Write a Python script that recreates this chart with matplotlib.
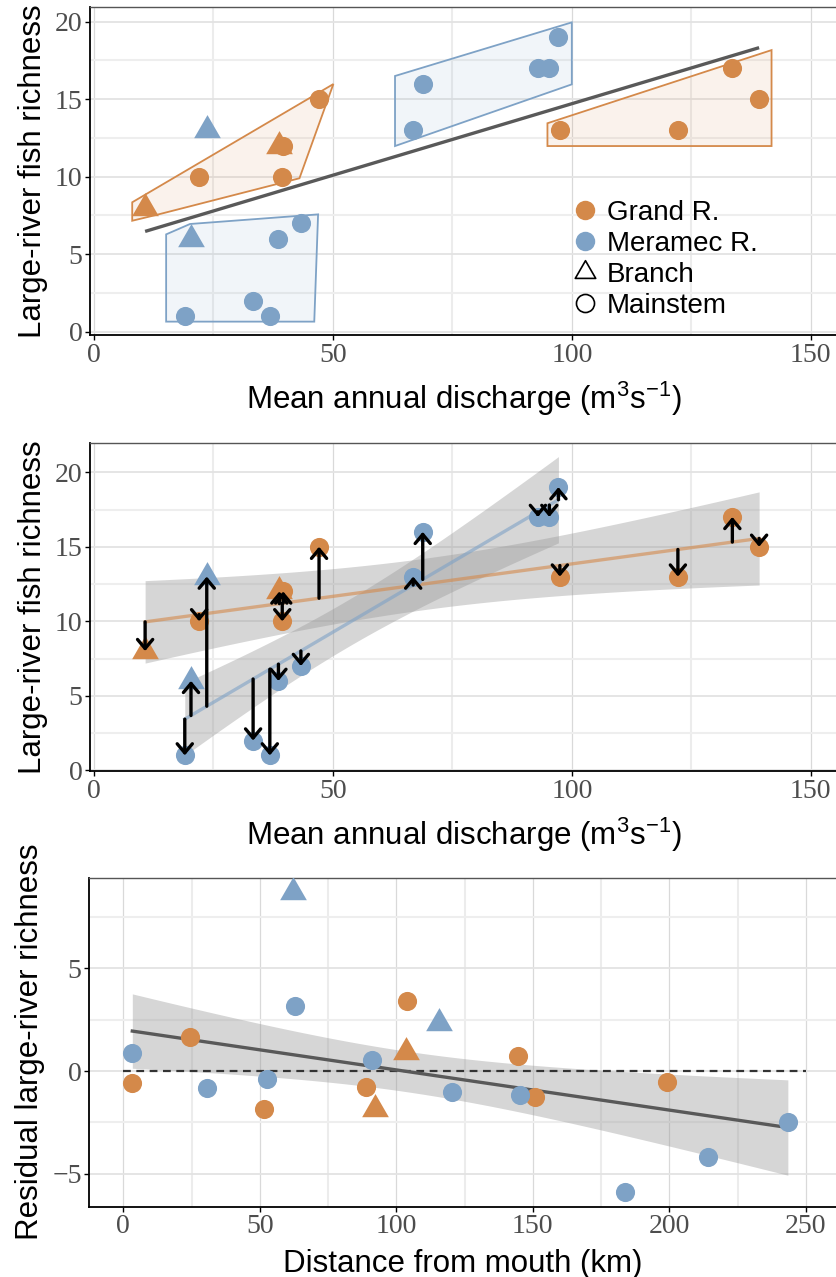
import numpy as np
import matplotlib
matplotlib.use("Agg")
from matplotlib import pyplot as plt
from matplotlib.lines import Line2D
from matplotlib.patches import Polygon
from matplotlib.path import Path

plt.rcParams["font.family"] = ["Liberation Sans", "DejaVu Sans"]
plt.rcParams["mathtext.fontset"] = "custom"
plt.rcParams["mathtext.rm"] = "Liberation Sans"
plt.rcParams["mathtext.it"] = "Liberation Sans:italic"

# ---- data ----
# discharge vs richness (top + middle panels)
grand_discharge = [10.7, 22.0, 38.8, 39.6, 39.4, 47.1, 97.5, 122.2, 133.6, 139.2]
grand_richness = [8, 10, 12, 12, 10, 15, 13, 13, 17, 15]
grand_site = ["Branch", "Mainstem", "Branch", "Mainstem", "Mainstem",
              "Mainstem", "Mainstem", "Mainstem", "Mainstem", "Mainstem"]

meramec_discharge = [23.6, 20.3, 19.0, 33.3, 36.8, 38.6, 43.3, 66.8, 68.8, 92.9, 95.3, 97.2]
meramec_richness = [13, 6, 1, 2, 1, 6, 7, 13, 16, 17, 17, 19]
meramec_site = ["Branch", "Branch", "Mainstem", "Mainstem", "Mainstem", "Mainstem",
                "Mainstem", "Mainstem", "Mainstem", "Mainstem", "Mainstem", "Mainstem"]

# hand-drawn group outlines in the top panel (discharge, richness)
grand_outline_low = [(8.0, 8.35), (8.0, 7.16), (13.5, 7.57), (43.0, 9.9), (50.1, 15.98)]
grand_outline_high = [(94.9, 13.45), (141.8, 18.17), (141.8, 11.98), (94.9, 11.98)]
meramec_outline_low = [(15.1, 6.28), (20.1, 6.95), (46.9, 7.57), (46.1, 0.65), (15.1, 0.65)]
meramec_outline_high = [(63.0, 16.5), (100.0, 19.96), (100.0, 15.96), (63.0, 11.98)]

# distance vs residual richness (bottom panel)
grand_distance = [3.3, 24.5, 51.7, 89.0, 92.3, 103.6, 103.9, 144.6, 150.7, 199.2]
grand_residual = [-0.60, 1.64, -1.86, -0.76, -1.86, 0.91, 3.42, 0.73, -1.28, -0.52]
grand_dist_site = ["Mainstem", "Mainstem", "Mainstem", "Mainstem", "Branch",
                   "Branch", "Mainstem", "Mainstem", "Mainstem", "Mainstem"]

meramec_distance = [3.3, 30.6, 52.6, 62.3, 62.9, 91.2, 115.5, 120.4, 145.4, 183.7, 214.2, 243.4]
meramec_residual = [0.86, -0.84, -0.40, 8.72, 3.18, 0.54, 2.36, -1.04, -1.17, -5.87, -4.20, -2.50]
meramec_dist_site = ["Mainstem", "Mainstem", "Mainstem", "Branch", "Mainstem", "Mainstem",
                     "Branch", "Mainstem", "Mainstem", "Mainstem", "Mainstem", "Mainstem"]

# one-sided 0.95 t quantiles (90% bands) keyed by residual df
T_CRIT = {18: 1.734, 20: 1.725}

ORANGE = "#d4894a"
BLUE = "#7ea2c6"
LINE_GREY = "#595959"
TICK_GREY = "#4d4d4d"

# equilateral triangle with its centroid on the data point (like R's pch 17)
TRIANGLE = Path([(0, 1), (-0.866, -0.5), (0.866, -0.5), (0, 1)],
                [Path.MOVETO, Path.LINETO, Path.LINETO, Path.CLOSEPOLY])
CIRCLE_S = 190
TRIANGLE_S = 493


def ols(x, y):
    slope, intercept = np.polyfit(x, y, 1)
    return slope, intercept


def band(x, xs, fit, s, df):
    """confidence band of a straight-line fit, residual sd s with df degrees of freedom"""
    x = np.asarray(x, float)
    se = s * np.sqrt(1 / len(x) + (xs - x.mean()) ** 2 / np.sum((x - x.mean()) ** 2))
    return fit - T_CRIT[df] * se, fit + T_CRIT[df] * se


def scatter_sites(ax, x, y, site, color, z=4):
    x = np.asarray(x)
    y = np.asarray(y)
    site = np.asarray(site)
    m = site == "Mainstem"
    ax.scatter(x[m], y[m], s=CIRCLE_S, color=color, marker="o", linewidths=0, zorder=z)
    ax.scatter(x[~m], y[~m], s=TRIANGLE_S, color=color, marker=TRIANGLE, linewidths=0, zorder=z)


def style_axes(ax, xticks, yticks, xminor, yminor):
    ax.set_xticks(xticks)
    ax.set_yticks(yticks)
    ax.set_xticks(xminor, minor=True)
    ax.set_yticks(yminor, minor=True)
    ax.grid(which="major", axis="x", color="#d9d9d9", lw=0.9)
    ax.grid(which="minor", axis="x", color="#ececec", lw=1.5)
    ax.grid(which="major", axis="y", color="#e3e3e3", lw=1.3)
    ax.grid(which="minor", axis="y", color="#eeeeee", lw=1.5)
    ax.set_axisbelow(True)
    ax.tick_params(which="major", direction="out", length=3.5, width=1, color="black",
                   labelsize=20, labelcolor=TICK_GREY, pad=2)
    ax.tick_params(which="minor", length=0)
    for lab in ax.get_xticklabels() + ax.get_yticklabels():
        lab.set_fontfamily("Liberation Serif")
    ax.spines["left"].set_linewidth(1.3)
    ax.spines["bottom"].set_linewidth(1.3)
    ax.spines["top"].set_color("#555555")
    ax.spines["top"].set_linewidth(1.0)
    ax.spines["right"].set_visible(False)


fig = plt.figure(figsize=(8.37, 12.77), dpi=100)
ax1 = fig.add_axes([0.1075, 0.7377, 0.8925, 0.2568])
ax2 = fig.add_axes([0.1075, 0.3962, 0.8925, 0.2571])
ax3 = fig.add_axes([0.1067, 0.0551, 0.8933, 0.2576])

discharge_label = r"Mean annual discharge (m$^{3}$s$^{-1}$)"
TITLE_SIZE = 22.5

# ---- top panel: groups outlined, single pooled regression ----
for outline, color in [(grand_outline_low, ORANGE), (grand_outline_high, ORANGE),
                       (meramec_outline_low, BLUE), (meramec_outline_high, BLUE)]:
    ax1.add_patch(Polygon(outline, closed=True, facecolor=color, alpha=0.1, lw=0, zorder=2))
    ax1.add_patch(Polygon(outline, closed=True, fill=False, edgecolor=color, lw=1.3, zorder=2))

all_discharge = np.array(grand_discharge + meramec_discharge)
all_richness = np.array(grand_richness + meramec_richness)
xs_all = np.linspace(all_discharge.min(), all_discharge.max(), 100)
b_all, a_all = ols(all_discharge, all_richness)
ax1.plot(xs_all, a_all + b_all * xs_all, color=LINE_GREY, lw=2.4, zorder=3,
         solid_capstyle="butt")

scatter_sites(ax1, grand_discharge, grand_richness, grand_site, ORANGE)
scatter_sites(ax1, meramec_discharge, meramec_richness, meramec_site, BLUE)

ax1.set_xlim(-0.84, 155.5)
ax1.set_ylim(-0.21, 20.95)
style_axes(ax1, [0, 50, 100, 150], [0, 5, 10, 15, 20], [25, 75, 125], [2.5, 7.5, 12.5, 17.5])
ax1.set_xlabel(discharge_label, fontsize=TITLE_SIZE, labelpad=9)
ax1.set_ylabel("Large-river fish richness", fontsize=TITLE_SIZE, labelpad=5)

handles = [
    Line2D([], [], ls="", marker="o", ms=14, color=ORANGE, mew=0),
    Line2D([], [], ls="", marker="o", ms=14, color=BLUE, mew=0),
    Line2D([], [], ls="", marker=TRIANGLE, ms=17, mfc="none", mec="black", mew=1.2),
    Line2D([], [], ls="", marker="o", ms=13, mfc="none", mec="black", mew=1.2),
]
ax1.legend(handles, ["Grand R.", "Meramec R.", "Branch", "Mainstem"],
           loc="upper left", bbox_to_anchor=(0.625, 0.455), frameon=False, fontsize=20,
           handlelength=1.0, handletextpad=0.3, labelspacing=0.18, borderpad=0)

# ---- middle panel: per-river fits (interaction model, pooled variance), residual arrows ----
groups = [(grand_discharge, grand_richness, grand_site, ORANGE),
          (meramec_discharge, meramec_richness, meramec_site, BLUE)]
fits = []
ss_resid = 0.0
n_total = 0
for x, y, site, color in groups:
    x = np.asarray(x, float)
    y = np.asarray(y, float)
    b, a = ols(x, y)
    fits.append((b, a))
    ss_resid += np.sum((y - (a + b * x)) ** 2)
    n_total += len(x)
df_pooled = n_total - 4
s_pooled = np.sqrt(ss_resid / df_pooled)

for (x, y, site, color), (b, a) in zip(groups, fits):
    x = np.asarray(x, float)
    y = np.asarray(y, float)
    xs = np.linspace(x.min(), x.max(), 100)
    fit = a + b * xs
    lo, hi = band(x, xs, fit, s_pooled, df_pooled)
    ax2.fill_between(xs, lo, hi, color="#999999", alpha=0.4, lw=0, zorder=2)
    ax2.plot(xs, fit, color=color, alpha=0.6, lw=2.4, zorder=3)
    scatter_sites(ax2, x, y, site, color)
    for xi, f, yi in zip(x, a + b * x, y):
        ax2.annotate("", xy=(xi, yi), xytext=(xi, f),
                     arrowprops=dict(arrowstyle="->,head_length=0.5,head_width=0.42",
                                     color="black", lw=2.4, shrinkA=0, shrinkB=0,
                                     mutation_scale=13),
                     zorder=5)

ax2.set_xlim(-0.84, 155.5)
ax2.set_ylim(-0.05, 21.98)
style_axes(ax2, [0, 50, 100, 150], [0, 5, 10, 15, 20], [25, 75, 125], [2.5, 7.5, 12.5, 17.5])
ax2.set_xlabel(discharge_label, fontsize=TITLE_SIZE, labelpad=9)
ax2.set_ylabel("Large-river fish richness", fontsize=TITLE_SIZE, labelpad=5)

# ---- bottom panel: residual richness vs distance ----
all_distance = np.array(grand_distance + meramec_distance)
all_residual = np.array(grand_residual + meramec_residual)
xs_d = np.linspace(all_distance.min(), all_distance.max(), 100)
b_d, a_d = ols(all_distance, all_residual)
fit_d = a_d + b_d * xs_d
s_d = np.sqrt(np.sum((all_residual - (a_d + b_d * all_distance)) ** 2) / (len(all_distance) - 2))
lo_d, hi_d = band(all_distance, xs_d, fit_d, s_d, len(all_distance) - 2)
ax3.fill_between(xs_d, lo_d, hi_d, color="#999999", alpha=0.4, lw=0, zorder=2)
ax3.plot([0, 250], [0, 0], color="#333333", lw=1.6, ls=(0, (3.5, 2.5)), zorder=3)
ax3.plot(xs_d, fit_d, color=LINE_GREY, lw=2.4, zorder=3)
scatter_sites(ax3, grand_distance, grand_residual, grand_dist_site, ORANGE)
scatter_sites(ax3, meramec_distance, meramec_residual, meramec_dist_site, BLUE)

ax3.set_xlim(-12.45, 261.4)
ax3.set_ylim(-6.6, 9.41)
style_axes(ax3, [0, 50, 100, 150, 200, 250], [-5, 0, 5],
           [25, 75, 125, 175, 225], [-2.5, 2.5, 7.5])
ax3.set_xlabel("Distance from mouth (km)", fontsize=TITLE_SIZE, labelpad=7)
ax3.set_ylabel("Residual large-river richness", fontsize=TITLE_SIZE, labelpad=5)

fig.savefig("out.png", dpi=100)
